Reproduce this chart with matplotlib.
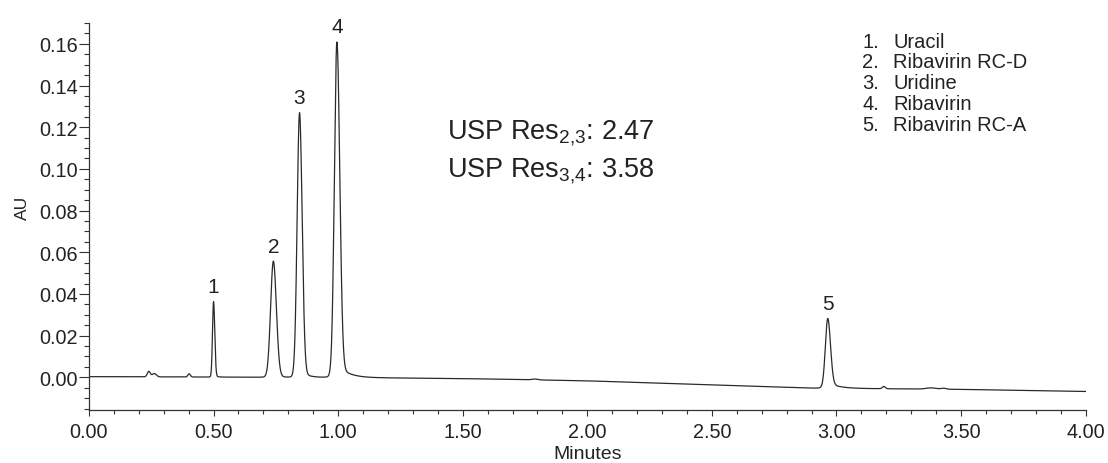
import numpy as np
import matplotlib
matplotlib.use("Agg")
import matplotlib.pyplot as plt
from matplotlib.ticker import MultipleLocator, FormatStrFormatter

plt.rcParams["font.family"] = ["Liberation Sans", "DejaVu Sans"]

# main peaks: retention time (min), height above baseline (AU), left/right sigma (min)
peak_labels = ["1", "2", "3", "4", "5"]
peak_times = [0.500, 0.740, 0.845, 0.995, 2.965]
peak_heights = [0.0357, 0.0550, 0.1250, 0.1575, 0.0320]
sigma_left = [0.0042, 0.0110, 0.0095, 0.0100, 0.0095]
sigma_right = [0.0048, 0.0120, 0.0105, 0.0115, 0.0110]
# exponential tailing per peak: tail height (AU), decay constant (min)
tail_heights = [0.0010, 0.0015, 0.0040, 0.0070, 0.0030]
tail_taus = [0.010, 0.020, 0.025, 0.040, 0.040]

# small features
minor_times = [0.240, 0.262, 0.402, 1.790, 3.190, 3.380, 3.430]
minor_heights = [0.0026, 0.0016, 0.0015, 0.0004, 0.0011, 0.0006, 0.0005]
minor_widths = [0.006, 0.008, 0.005, 0.012, 0.006, 0.020, 0.010]

# baseline drift
base_times = [0.0, 0.30, 1.00, 1.50, 2.00, 2.50, 2.90, 3.50, 4.00]
base_values = [0.0003, 0.0002, -0.0001, -0.0006, -0.0017, -0.0036, -0.0052, -0.0058, -0.0068]

compounds = ["Uracil", "Ribavirin RC-D", "Uridine", "Ribavirin", "Ribavirin RC-A"]

t = np.linspace(0, 4, 8001)
signal = np.interp(t, base_times, base_values)
for t0, h, sl, sr, th, tau in zip(peak_times, peak_heights, sigma_left, sigma_right,
                                  tail_heights, tail_taus):
    s = np.where(t < t0, sl, sr)
    signal += h * np.exp(-0.5 * ((t - t0) / s) ** 2)
    dt = np.clip(t - t0, 0, None)
    signal += th * np.exp(-dt / tau) / (1 + np.exp(-(t - t0) / sr))
for t0, h, w in zip(minor_times, minor_heights, minor_widths):
    signal += h * np.exp(-0.5 * ((t - t0) / w) ** 2)

fig = plt.figure(figsize=(11.08, 4.64), dpi=100)
ax = fig.add_axes([0.0803, 0.1142, 0.8995, 0.834])
ax.plot(t, signal, color="#2a2a2a", lw=0.9)

ax.set_xlim(0, 4)
ax.set_ylim(-0.0157, 0.170)
for side in ["top", "right"]:
    ax.spines[side].set_visible(False)
for side in ["left", "bottom"]:
    ax.spines[side].set_color("#333333")
    ax.spines[side].set_linewidth(0.9)

ax.xaxis.set_major_locator(MultipleLocator(0.5))
ax.xaxis.set_minor_locator(MultipleLocator(0.1))
ax.yaxis.set_major_locator(MultipleLocator(0.02))
ax.yaxis.set_minor_locator(MultipleLocator(0.005))
ax.xaxis.set_major_formatter(FormatStrFormatter("%.2f"))
ax.yaxis.set_major_formatter(FormatStrFormatter("%.2f"))
ax.tick_params(axis="both", which="both", direction="out", color="#333333",
               labelsize=14.3, labelcolor="#222222", width=0.8)
ax.tick_params(axis="y", which="major", length=7, pad=1)
ax.tick_params(axis="y", which="minor", length=3.5)
ax.tick_params(axis="x", which="major", length=4.5, pad=4)
ax.tick_params(axis="x", which="minor", length=3)

ax.set_xlabel("Minutes", fontsize=14, color="#222222", labelpad=3)
ax.set_ylabel("AU", fontsize=12.5, color="#222222")
ax.yaxis.set_label_coords(-0.059, 0.525)

# peak numbers
for lab, t0 in zip(peak_labels, peak_times):
    apex = signal[np.argmin(np.abs(t - t0))]
    ax.annotate(lab, (t0, apex), xytext=(0, 4), textcoords="offset points",
                ha="center", va="bottom", fontsize=15, color="#222222")

# resolution text
fig.text(0.403, 0.712, r"USP Res$_{\mathregular{2{,}3}}$: 2.47",
         fontsize=19.5, color="#222222", va="center")
fig.text(0.403, 0.632, r"USP Res$_{\mathregular{3{,}4}}$: 3.58",
         fontsize=19.5, color="#222222", va="center")

# compound list
for i, name in enumerate(compounds):
    y = 1 - (42 + i * 20.8) / 464
    fig.text(0.778, y, f"{i + 1}.", fontsize=14.5, color="#222222", va="center")
    fig.text(0.806, y, name, fontsize=14.5, color="#222222", va="center")

fig.savefig("out.png", dpi=100)
